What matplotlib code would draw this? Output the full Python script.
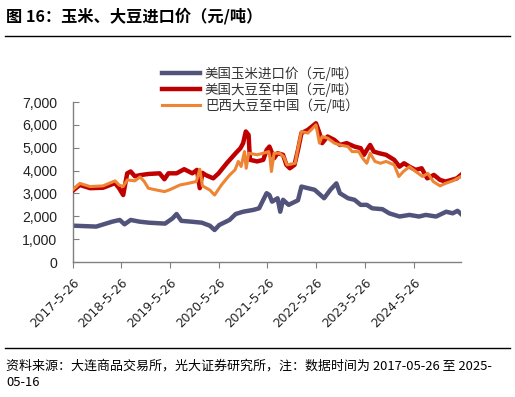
import matplotlib
matplotlib.use("Agg")
import matplotlib.pyplot as plt
import pandas as pd

plt.rcParams['font.family'] = ['Noto Sans CJK SC', 'DejaVu Sans']

# ---- data ----
corn_dates = ["2017-05-26", "2017-11-20", "2018-03-20", "2018-05-15", "2018-06-20", "2018-08-05",
              "2018-10-10", "2018-12-20", "2019-04-20", "2019-06-15", "2019-07-15", "2019-08-20",
              "2019-11-01", "2020-01-20", "2020-03-20", "2020-04-25", "2020-05-30", "2020-08-15",
              "2020-09-30", "2020-11-25", "2021-02-10", "2021-03-25", "2021-04-25", "2021-05-20",
              "2021-06-10", "2021-06-30", "2021-08-10", "2021-08-30", "2021-09-20", "2021-11-01",
              "2022-01-10", "2022-02-05", "2022-03-25", "2022-05-15", "2022-07-25", "2022-09-10",
              "2022-10-25", "2022-11-20", "2023-01-20", "2023-03-10", "2023-04-25", "2023-06-10",
              "2023-07-20", "2023-10-05", "2023-11-25", "2024-02-10", "2024-04-25", "2024-07-05",
              "2024-08-25", "2024-11-10", "2025-01-25", "2025-03-15", "2025-04-20", "2025-05-16"]
corn_vals = [1590, 1550, 1765, 1840, 1650, 1840,
             1765, 1720, 1680, 1910, 2100, 1800,
             1765, 1720, 1590, 1400, 1620, 1840,
             2100, 2200, 2280, 2350, 2720, 3010,
             2930, 2640, 2790, 2200, 2720, 2500,
             2700, 3300, 3230, 3160, 2790, 3160,
             3440, 3010, 2790, 2720, 2500, 2500,
             2350, 2310, 2130, 1990, 2060, 1990,
             2060, 1990, 2200, 2130, 2240, 2100]

us_soy_dates = ["2017-05-26", "2017-07-20", "2017-10-05", "2018-01-10", "2018-04-10", "2018-05-10",
                "2018-06-10", "2018-07-10", "2018-08-05", "2018-09-05", "2018-10-15", "2018-12-15",
                "2019-03-10", "2019-04-15", "2019-05-15", "2019-07-15", "2019-09-10", "2019-11-10",
                "2019-12-15", "2020-01-05", "2020-01-25", "2020-02-20", "2020-04-15", "2020-05-25",
                "2020-07-25", "2020-09-30", "2020-11-05", "2020-11-25", "2020-12-15", "2021-01-05",
                "2021-01-15", "2021-03-10", "2021-04-25", "2021-05-20", "2021-06-10", "2021-06-25",
                "2021-07-15", "2021-08-10", "2021-09-20", "2021-10-15", "2021-11-10", "2021-12-15",
                "2022-01-10", "2022-02-05", "2022-03-25", "2022-05-25", "2022-06-20", "2022-07-10",
                "2022-08-20", "2022-10-10", "2022-11-20", "2023-01-10", "2023-03-10", "2023-04-25",
                "2023-05-20", "2023-06-10", "2023-07-05", "2023-08-01", "2023-09-10", "2023-11-01",
                "2024-01-01", "2024-02-10", "2024-03-15", "2024-04-25", "2024-06-10", "2024-07-25",
                "2024-09-05", "2024-10-25", "2024-12-10", "2025-01-20", "2025-03-05", "2025-04-15",
                "2025-05-16"]
us_soy_vals = [3110, 3370, 3230, 3250, 3450, 3230,
               2930, 3880, 3960, 3750, 3800, 3850,
               3880, 3620, 3880, 3880, 4060, 3880,
               4030, 3230, 3900, 3800, 3660, 3880,
               4320, 4760, 4980, 5200, 5710, 5560,
               4470, 4400, 4470, 4900, 5050, 4830,
               4540, 4760, 4690, 4250, 4100, 4250,
               4900, 5640, 5780, 6070, 5640, 5200,
               5490, 5340, 5120, 5200, 5050, 4980,
               4690, 4900, 5120, 4830, 4760, 4690,
               4470, 4170, 4320, 4170, 4030, 4100,
               3660, 3810, 3590, 3520, 3590, 3660,
               3810]

br_soy_dates = ["2017-05-26", "2017-07-20", "2017-10-05", "2018-01-10", "2018-04-10", "2018-05-10",
                "2018-06-10", "2018-07-10", "2018-09-05", "2018-10-15", "2018-11-15", "2018-12-15",
                "2019-01-20", "2019-04-15", "2019-05-20", "2019-08-10", "2019-10-10", "2019-12-10",
                "2020-01-05", "2020-01-25", "2020-03-20", "2020-04-25", "2020-06-15", "2020-08-15",
                "2020-09-25", "2020-10-20", "2020-11-10", "2020-12-05", "2020-12-18", "2021-01-05",
                "2021-03-10", "2021-04-25", "2021-06-05", "2021-06-15", "2021-06-25", "2021-07-15",
                "2021-08-25", "2021-09-25", "2021-10-20", "2021-12-20", "2022-01-10", "2022-02-05",
                "2022-03-25", "2022-05-25", "2022-06-20", "2022-07-10", "2022-08-20", "2022-10-10",
                "2022-11-20", "2023-01-20", "2023-02-20", "2023-04-10", "2023-05-10", "2023-06-10",
                "2023-07-05", "2023-08-10", "2023-09-20", "2023-11-01", "2024-01-01", "2024-02-05",
                "2024-03-10", "2024-04-25", "2024-06-10", "2024-08-01", "2024-09-10", "2024-10-20",
                "2024-12-10", "2025-01-20", "2025-03-15", "2025-05-16"]
br_soy_vals = [3150, 3440, 3300, 3330, 3550, 3370,
               3300, 3590, 3550, 3720, 3520, 3230,
               3180, 3080, 3150, 3370, 3440, 3520,
               4060, 3330, 3150, 2930, 3370, 3800,
               4030, 4400, 4180, 4830, 4100, 4760,
               4690, 4760, 4830, 4540, 3960, 4760,
               4760, 4610, 4250, 4320, 4980, 5710,
               5640, 6000, 5200, 5490, 5420, 5200,
               5120, 5050, 4830, 4830, 4540, 4320,
               4760, 4400, 4320, 4400, 4250, 3740,
               3960, 4170, 3960, 3740, 3880, 3520,
               3330, 3440, 3550, 3740]

series_labels = ["美国玉米进口价（元/吨）", "美国大豆至中国（元/吨）", "巴西大豆至中国（元/吨）"]
tick_dates = ["2017-05-26", "2018-05-26", "2019-05-26", "2020-05-26", "2021-05-26",
              "2022-05-26", "2023-05-26", "2024-05-26"]
tick_labels = ["2017-5-26", "2018-5-26", "2019-5-26", "2020-5-26", "2021-5-26",
               "2022-5-26", "2023-5-26", "2024-5-26"]
y_ticks = [0, 1000, 2000, 3000, 4000, 5000, 6000, 7000]

title = "图 16：玉米、大豆进口价（元/吨）"
source = "资料来源：大连商品交易所，光大证券研究所，注：数据时间为 2017-05-26 至 2025-\n05-16"

# ---- plot ----
W, H = 515, 397
fig = plt.figure(figsize=(W / 100, H / 100), dpi=100)
ax = fig.add_axes([72.5 / W, 1 - 262 / H, (461 - 72.5) / W, (262 - 102) / H])

ax.plot(pd.to_datetime(corn_dates), corn_vals, color="#52537A", lw=3.2,
        label=series_labels[0], solid_joinstyle="round", zorder=2)
ax.plot(pd.to_datetime(us_soy_dates), us_soy_vals, color="#C00000", lw=3.2,
        label=series_labels[1], solid_joinstyle="round", zorder=3)
ax.plot(pd.to_datetime(br_soy_dates), br_soy_vals, color="#EE8534", lw=2.2,
        label=series_labels[2], solid_joinstyle="round", zorder=4)

ax.set_ylim(0, 7000)
ax.set_xlim(pd.Timestamp("2017-05-26"), pd.Timestamp("2025-05-16"))
ax.set_yticks(y_ticks)
ax.set_yticklabels([f"{v:,}" for v in y_ticks], family=["Liberation Sans", "DejaVu Sans"],
                   fontsize=10.2, color="#222222")
ax.set_xticks(pd.to_datetime(tick_dates))
ax.set_xticklabels(tick_labels, rotation=45, ha="right", rotation_mode="anchor",
                   family=["DejaVu Sans"], fontsize=8.8, color="#222222")

for s in ["top", "right"]:
    ax.spines[s].set_visible(False)
for s in ["left", "bottom"]:
    ax.spines[s].set_color("#808080")
    ax.spines[s].set_linewidth(1.0)
ax.tick_params(axis="y", direction="in", length=4, color="#808080", pad=11)
ax.tick_params(axis="x", direction="out", length=4, color="#808080", pad=6)

leg = ax.legend(loc="upper left", bbox_to_anchor=(162 / W, 1 - 66 / H),
                bbox_transform=fig.transFigure, frameon=False, fontsize=9.7,
                handlelength=2.8, handletextpad=0.38, labelspacing=0.12,
                borderaxespad=0, borderpad=0)
for t in leg.get_texts():
    t.set_color("#333333")

fig.text(6 / W, 1 - 16 / H, title, fontsize=11.7, fontweight="bold", va="center", ha="left")
fig.add_artist(plt.Line2D([5 / W, 510 / W], [1 - 36 / H, 1 - 36 / H], color="black", lw=1.0))
fig.add_artist(plt.Line2D([5 / W, 510 / W], [1 - 348 / H, 1 - 348 / H], color="black", lw=1.0))
fig.text(6 / W, 1 - 360 / H, source, fontsize=9.35, va="top", ha="left", linespacing=1.35)

fig.savefig("out.png", dpi=100)
